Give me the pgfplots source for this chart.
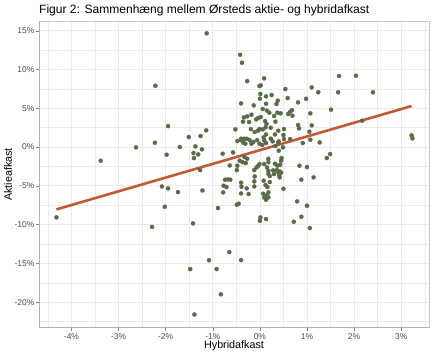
\documentclass[border=0pt]{standalone}
\usepackage{pgfplots}
\pgfplotsset{compat=1.18}
\usepackage{fontspec}
\setmainfont{Liberation Sans}
\definecolor{pt}{HTML}{5A6B47}
\definecolor{reg}{HTML}{C05A38}
\definecolor{gridc}{HTML}{EBEBEB}
\definecolor{tickc}{HTML}{4D4D4D}
\begin{document}
\begin{tikzpicture}
\useasboundingbox[fill=white] (0,0) rectangle (435bp,355bp);
\begin{axis}[
  at={(39bp,27.3bp)}, anchor=south west,
  scale only axis, width=390bp, height=306.7bp,
  xmin=-4.69, xmax=3.59, ymin=-23.3, ymax=16.26,
  xtick={-4,-3,-2,-1,0,1,2,3},
  xticklabels={-4\%,-3\%,-2\%,-1\%,0\%,1\%,2\%,3\%},
  ytick={-20,-15,-10,-5,0,5,10,15},
  yticklabels={-20\%,-15\%,-10\%,-5\%,0\%,5\%,10\%,15\%},
  minor xtick={-4.5,-3.5,-2.5,-1.5,-0.5,0.5,1.5,2.5,3.5},
  minor ytick={-22.5,-17.5,-12.5,-7.5,-2.5,2.5,7.5,12.5},
  grid=both,
  major grid style={gridc, line width=0.8bp},
  minor grid style={gridc, line width=0.45bp},
  minor tick length=0pt,
  major tick length=3bp,
  tick align=outside,
  xtick pos=bottom, ytick pos=left,
  tick style={tickc!70, line width=0.5bp},
  ticklabel style={font=\fontsize{8.5}{10}\selectfont, text=tickc},
  xticklabel style={inner sep=1bp, yshift=-1.5bp},
  yticklabel style={inner sep=1.5bp},
  axis line style={draw=gray!45, line width=0.6bp},
  xlabel={Hybridafkast}, ylabel={Aktieafkast},
  xlabel style={at={(axis description cs:0.5,-0.058)}, anchor=center, inner sep=0pt, font=\fontsize{10.8}{12}\selectfont},
  ylabel style={at={(axis description cs:-0.0795,0.5)}, anchor=center, inner sep=0pt, font=\fontsize{10.8}{12}\selectfont},
  every axis title shift=0pt,
  title={Figur 2: Sammenhæng mellem Ørsteds aktie- og hybridafkast},
  title style={at={(axis description cs:0,1)}, anchor=west, yshift=11bp, inner sep=0pt, font=\fontsize{12.1}{14}\selectfont},
]
\addplot[only marks, mark=*, mark size=2.1bp, mark options={fill=pt, draw=pt, line width=0.2bp}] table {
x y
-4.32 -9.07
-3.38 -1.77
-2.63 -0.04
-2.22 7.90
-1.13 14.67
-0.42 11.90
-0.38 10.88
-0.27 8.50
-1.95 2.70
-2.23 0.56
-1.98 -0.99
-1.70 0.00
-1.51 1.29
-1.26 1.42
-1.14 2.15
-1.37 0.09
-1.23 -0.30
-1.41 -0.77
-1.31 -0.95
-1.40 -1.42
-0.79 -0.86
-0.64 -2.37
-1.27 -2.97
-2.08 -5.08
-1.95 -5.33
-1.74 -5.81
-1.22 -5.60
-2.02 -7.70
-2.29 -10.30
-1.42 -9.85
-0.89 -7.87
-0.78 -5.85
-0.77 -4.99
-0.65 -13.55
-1.08 -14.60
-1.48 -15.74
-0.92 -15.74
-0.40 -14.58
-0.83 -19.00
-1.39 -21.60
1.68 9.16
2.04 9.20
1.66 7.06
2.40 7.06
1.24 7.06
1.10 7.70
0.54 7.48
0.59 6.32
0.98 6.23
0.81 5.76
1.51 4.82
1.07 4.35
0.60 4.26
0.64 4.52
0.68 4.77
0.69 4.04
0.44 4.35
2.17 3.40
0.81 2.84
0.83 2.41
1.10 2.80
1.05 1.98
0.50 1.55
0.51 2.32
3.22 1.51
3.24 1.12
0.40 0.73
0.51 1.03
0.64 1.03
0.91 0.52
1.07 0.95
1.27 0.60
0.49 -0.04
0.40 -0.47
0.46 -1.42
0.45 -1.76
0.43 -2.28
0.42 -3.14
0.45 -3.31
0.41 -3.66
0.42 -3.91
0.50 -5.38
0.84 -2.41
1.00 -2.58
0.88 -4.21
1.14 -3.91
1.42 -1.42
1.49 -0.90
0.79 -7.01
1.00 -7.57
0.88 -9.00
0.72 -9.64
1.06 -10.45
-0.48 0.77
-0.41 0.90
-0.35 0.56
-0.31 0.43
-0.22 0.90
-0.18 0.43
-0.14 0.65
-0.06 0.90
-0.01 0.43
0.05 0.26
0.09 0.86
0.13 0.52
0.27 0.73
0.33 0.13
0.39 0.56
0.23 1.08
-0.57 -0.69
-0.43 -1.76
-0.37 -1.94
-0.33 -1.29
-0.27 -1.51
-0.30 -2.06
-0.49 -2.97
-0.48 -2.41
-0.12 -2.97
-0.07 -2.62
-0.04 -2.45
-0.01 -2.19
0.09 -2.19
0.18 -1.51
0.18 -1.94
0.15 -2.62
0.18 -3.05
0.18 -3.44
0.21 -3.74
0.32 -2.15
0.37 -2.41
0.39 -3.23
0.28 -3.01
0.30 -3.48
0.36 -2.97
-0.74 -4.21
-0.68 -4.17
-0.63 -4.21
-0.71 -5.16
-0.40 -4.60
-0.39 -5.12
-0.11 -3.79
-0.12 -4.43
-0.12 -5.08
-0.28 -5.33
-0.24 -6.06
-0.40 -5.98
0.08 -4.34
0.12 -4.90
0.21 -4.52
0.16 -5.16
0.07 -6.02
0.09 -6.49
0.14 -6.24
0.18 -6.49
0.13 -6.80
0.18 -5.85
-0.49 -7.44
-0.45 -7.31
0.01 -9.08
0.00 -9.51
0.13 -9.29
0.09 8.86
-0.01 7.87
0.02 7.96
0.01 6.84
0.13 6.54
0.00 6.24
0.25 6.71
0.38 5.98
0.35 5.55
0.13 5.59
-0.40 5.63
-0.13 5.38
0.06 4.90
0.15 4.69
0.20 4.43
0.37 4.43
0.30 4.00
-0.34 3.83
-0.27 3.96
-0.18 4.17
-0.08 3.57
-0.04 3.74
0.02 3.87
0.11 3.35
-0.36 3.27
-0.23 3.23
0.14 2.97
0.33 3.27
-0.01 2.32
0.06 2.28
0.12 2.54
0.23 2.49
-0.52 2.28
-0.19 2.32
-0.11 1.94
-0.04 2.11
0.13 1.63
0.08 1.25
0.32 1.63
0.39 2.11
-0.40 1.07
-0.34 1.07
-0.28 1.07
};
\addplot[reg, line width=2.6bp, no marks] coordinates {(-4.32,-8.04) (3.22,5.29)};
\draw[gray!60, line width=1bp] (rel axis cs:0,1) -- (rel axis cs:0,0) -- (rel axis cs:1,0);
\end{axis}
\end{tikzpicture}
\end{document}
